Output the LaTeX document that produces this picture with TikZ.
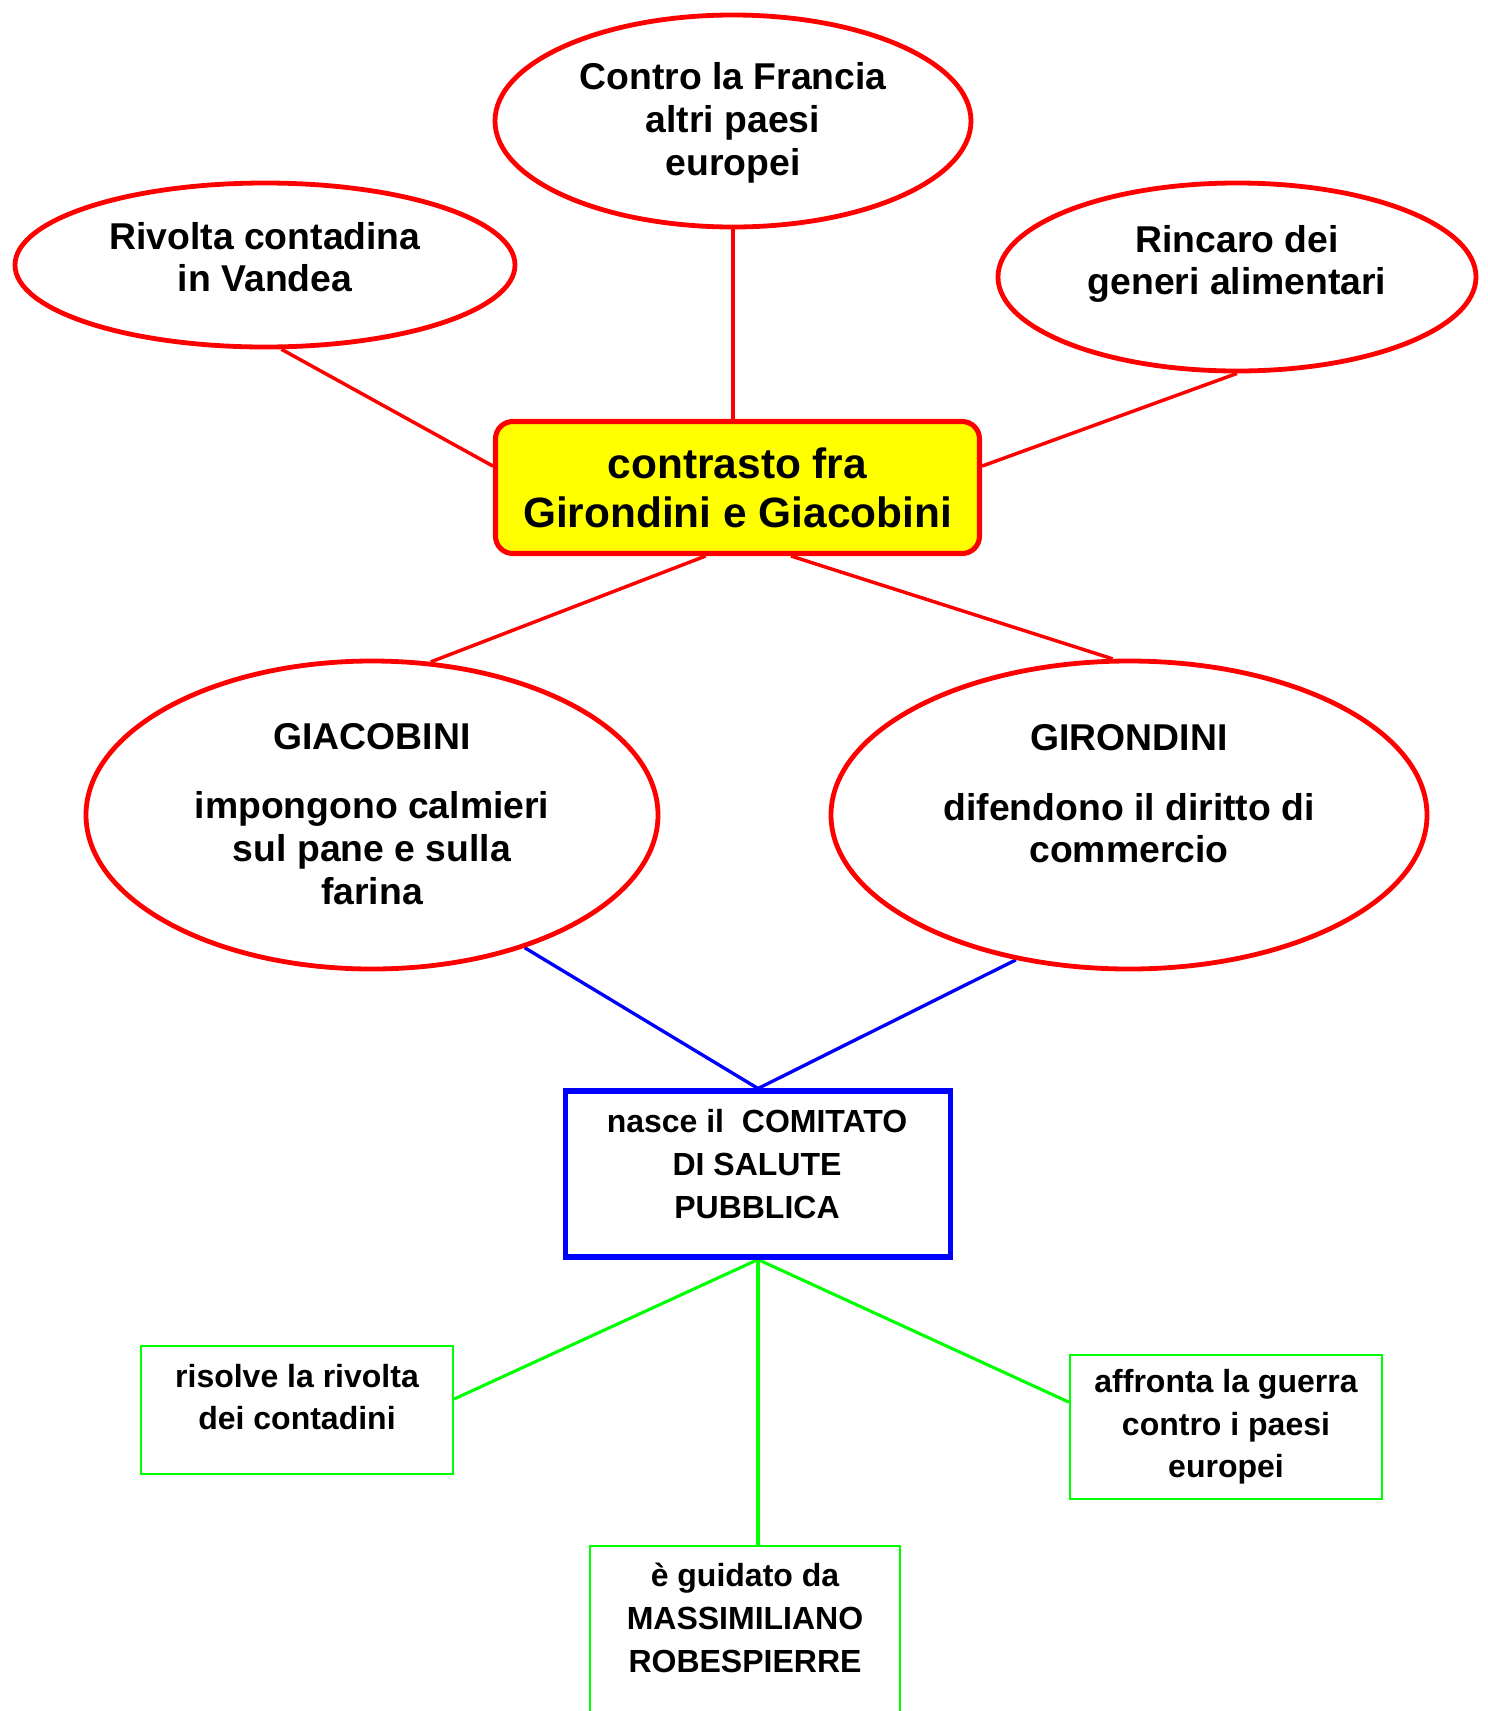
\documentclass[tikz,border=0pt]{standalone}
\usepackage{fontspec}
\setmainfont{Liberation Sans}
\usetikzlibrary{shapes.geometric}
\definecolor{pred}{RGB}{255,0,0}
\definecolor{pyel}{RGB}{255,255,0}
\definecolor{pblue}{RGB}{0,0,255}
\definecolor{pgreen}{RGB}{0,255,0}
\pgfdeclarelayer{bg}
\pgfsetlayers{bg,main}
\begin{document}
\begin{tikzpicture}[x=0.75pt,y=-0.75pt,
  ell/.style={ellipse, draw=pred, line width=3.6pt, inner sep=0pt},
  ybox/.style={rectangle, rounded corners=13pt, draw=pred, fill=pyel, line width=3.8pt, inner sep=0pt, align=center, font=\fontsize{31.8pt}{36.8pt}\selectfont\bfseries},
  bluebox/.style={rectangle, draw=pblue, line width=3.8pt, inner sep=0pt},
  greenbox/.style={rectangle, draw=pgreen, line width=1.6pt, inner sep=0pt, align=center, font=\fontsize{24pt}{32pt}\selectfont\bfseries},
  etext/.style={inner sep=0pt, align=center, font=\fontsize{28pt}{32pt}\selectfont\bfseries},
  stext/.style={inner sep=0pt, align=center, font=\fontsize{24pt}{32pt}\selectfont\bfseries},
  rline/.style={draw=pred, line width=2.6pt},
  bline/.style={draw=pblue, line width=2.5pt},
  gline/.style={draw=pgreen, line width=2.3pt}]
\useasboundingbox (0,0) rectangle (1488,1711);
% shapes
\node[ell, minimum width=357pt, minimum height=159pt] (e1) at (733,121) {};
\node[ell, minimum width=375pt, minimum height=123pt] (e2) at (265,265) {};
\node[ell, minimum width=358.5pt, minimum height=141pt] (e3) at (1237,277) {};
\node[ybox, minimum width=363pt, minimum height=99pt] (yb) at (737.5,487.5) {contrasto fra\\Girondini e Giacobini};
\node[ell, minimum width=429pt, minimum height=231pt] (gia) at (372,815) {};
\node[ell, minimum width=447pt, minimum height=231pt] (gir) at (1129,815) {};
\node[bluebox, minimum width=288.5pt, minimum height=124.5pt] (bb) at (758,1174) {};
\node[greenbox, minimum width=234pt, minimum height=96pt] (gl) at (297,1410) {};
\node[greenbox, minimum width=234pt, minimum height=108pt] (gr) at (1226,1427) {affronta la guerra\\contro i paesi\\europei};
\node[greenbox, minimum width=232.5pt, minimum height=153pt] (gb) at (745,1648) {};
% texts
\node[etext] (t1) at (733,123) {Contro la Francia\\altri paesi\\europei};
\node[etext] (t2) at (265,257) {Rivolta contadina\\in Vandea};
\node[etext] (t3) at (1237,264) {Rincaro dei\\generi alimentari};
\node[etext] (t4) at (372,814) {GIACOBINI\\[20pt]impongono calmieri\\sul pane e sulla\\farina};
\node[etext] (t5) at (1129,794) {GIRONDINI\\[20pt]difendono il diritto di\\commercio};
\node[stext] (t6) at (757,1164) {nasce il\ \ COMITATO\\DI SALUTE\\PUBBLICA};
\node[stext] (t7) at (297,1397) {risolve la rivolta\\dei contadini};
\node[stext] (t8) at (745,1618) {è guidato da\\MASSIMILIANO\\ROBESPIERRE};
% connectors
\begin{pgfonlayer}{bg}
\draw[rline] (e1.south) -- (e1.south |- yb.north);
\draw[rline] (e2.-79) -- (yb.175);
\draw[rline] (e3.south) -- (yb.5.8);
\draw[rline] (yb.-115.5) -- (gia.69);
\draw[rline] (yb.-52.6) -- (gir.96);
\draw[bline] (gia.-41.6) -- (bb.north);
\draw[bline] (gir.-128) -- (bb.north);
\draw[gline] (bb.south) -- (gl.4.8);
\draw[gline] (bb.south) -- (bb.south |- gb.north);
\draw[gline] (bb.south) -- (gr.171);
\end{pgfonlayer}
\end{tikzpicture}
\end{document}
